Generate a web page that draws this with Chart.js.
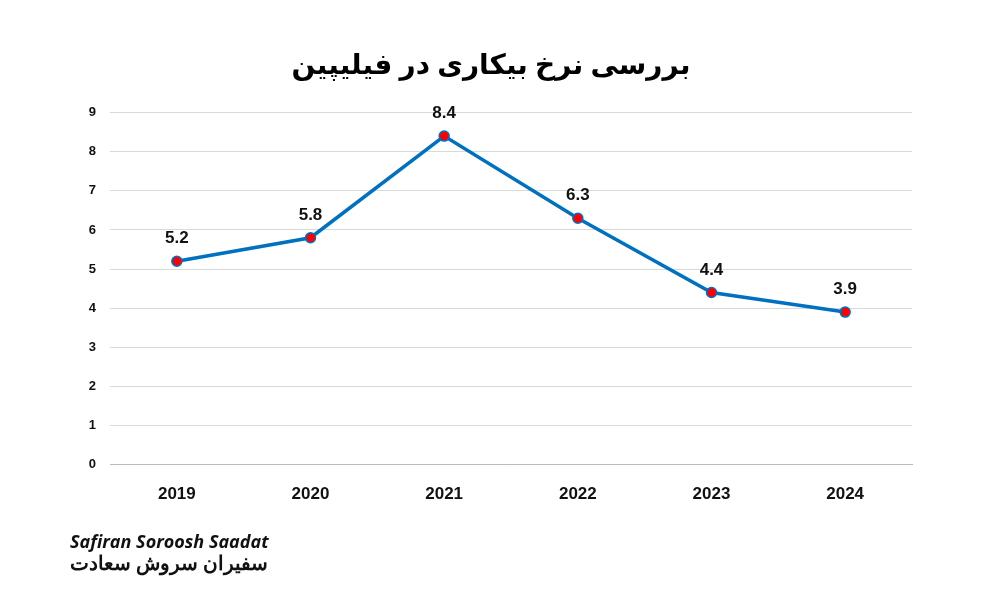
<!DOCTYPE html>
<html><head><meta charset="utf-8">
<script src="https://cdn.jsdelivr.net/npm/chart.js@4"></script>
<style>body{margin:0;background:#fff}#w{position:relative;width:1000px;height:600px}
#logo{position:absolute;left:70px;top:530px;font-family:"Open Sans",sans-serif;font-weight:bold;font-style:italic;font-size:18px;color:#111;line-height:22px}
</style></head><body>
<div id="w"><canvas id="c" width="1000" height="600"></canvas>
<div id="logo">Safiran Soroosh Saadat<br><span style="font-style:normal;font-family:'Noto Sans';font-size:20px">سفیران سروش سعادت</span></div></div>
<script>
const categories=["2019","2020","2021","2022","2023","2024"];
const values=[5.2,5.8,8.4,6.3,4.4,3.9];
const yTicks=[0,1,2,3,4,5,6,7,8,9];
const title="بررسی نرخ بیکاری در فیلیپین";
const labelPlugin={id:'lbl',afterDatasetsDraw(ch){const c=ch.ctx;const m=ch.getDatasetMeta(0);c.save();c.font='bold 17px "Liberation Sans",Arial';c.fillStyle='#111';c.textAlign='center';c.textBaseline='bottom';
m.data.forEach((p,i)=>c.fillText(values[i].toFixed(1),p.x,p.y-14));c.restore();}};
new Chart(document.getElementById('c'),{type:'line',
data:{labels:categories,datasets:[{data:values,borderColor:'#0070C0',borderWidth:3.5,pointBackgroundColor:'#FF0000',pointBorderColor:'#0070C0',pointBorderWidth:1.5,pointRadius:5,tension:0}]},
options:{responsive:false,animation:false,
layout:{padding:{top:49,right:88,bottom:83,left:70}},
plugins:{legend:{display:false},tooltip:{enabled:false},
title:{display:true,text:title,color:'#000',font:{family:'"Noto Sans","DejaVu Sans"',size:28,weight:'bold'},padding:{top:0,bottom:30}}},
scales:{x:{offset:true,grid:{display:false},border:{color:'#bbb'},ticks:{color:'#111',font:{family:'"Liberation Sans",Arial',size:17,weight:'bold'},padding:12}},
y:{min:0,max:9,afterBuildTicks(a){a.ticks=yTicks.map(v=>({value:v}))},grid:{color:'#d9d9d9',drawTicks:false},border:{display:false},
ticks:{color:'#111',font:{family:'"Liberation Sans",Arial',size:13,weight:'bold'},padding:14},afterFit(a){a.width=40}}}},
plugins:[labelPlugin]});
</script></body></html>
